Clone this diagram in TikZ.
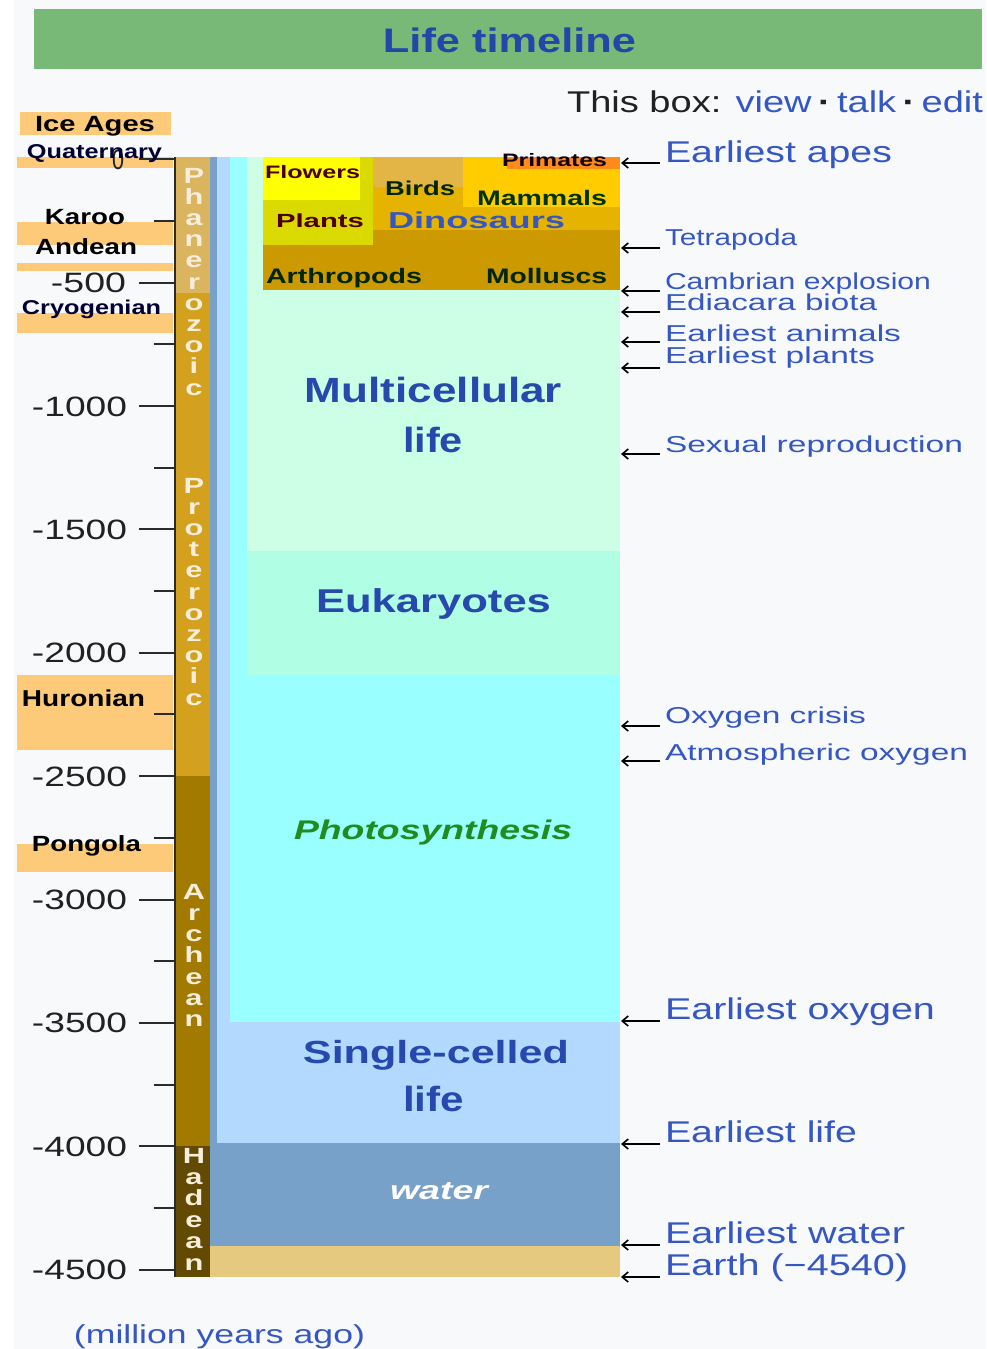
\documentclass[tikz,border=0pt]{standalone}
\usepackage{fontspec}
\setmainfont{Liberation Sans}
\usepackage{graphicx}
\usetikzlibrary{arrows.meta}
\definecolor{bg}{HTML}{F8F9FA}
\definecolor{hdr}{HTML}{78B978}
\definecolor{titleblue}{HTML}{2347A8}
\definecolor{linkblue}{HTML}{3557C4}
\definecolor{darkblue}{HTML}{2748AC}
\definecolor{darktext}{HTML}{202122}
\definecolor{band}{HTML}{FDCA7A}
\definecolor{phan}{HTML}{DAB45E}
\definecolor{prot}{HTML}{D4A11E}
\definecolor{arch}{HTML}{A27A00}
\definecolor{hade}{HTML}{624A02}
\definecolor{water}{HTML}{78A1C9}
\definecolor{single}{HTML}{B3D9FF}
\definecolor{photo}{HTML}{99FFFF}
\definecolor{euk}{HTML}{B0FFE4}
\definecolor{multi}{HTML}{CCFFE6}
\definecolor{earth}{HTML}{E5C97F}
\definecolor{arthro}{HTML}{CC9900}
\definecolor{dino}{HTML}{E5B300}
\definecolor{birds}{HTML}{E3B446}
\definecolor{mammals}{HTML}{FFCC00}
\definecolor{primates}{HTML}{FF8C1A}
\definecolor{plants}{HTML}{DADA00}
\definecolor{flowers}{HTML}{FFFF00}
\definecolor{photogreen}{HTML}{1E8C1E}
\definecolor{eraletter}{HTML}{F6EEDC}
\definecolor{tickc}{HTML}{2B2B2B}
\newcommand{\W}[2]{\resizebox{#1pt}{\height}{#2}}
\newcommand{\fs}[1]{\fontsize{#1}{#1}\selectfont}
\newcommand{\evt}[6]{%
  \coordinate (#1s) at (660,#2);
  \coordinate (#1e) at (621,#2);
  \draw[arr] (#1s) -- (#1e);
  \node[rlab] (#1) at (665,#3) {\fs{#4}\W{#5}{#6}};
}
\begin{document}
\begin{tikzpicture}[x=1pt,y=-1pt,
  lbl/.style={inner sep=0pt, outer sep=0pt},
  rlab/.style={lbl, anchor=base west, text=linkblue},
  llab/.style={lbl, anchor=base, text=black, font=\bfseries},
  num/.style={lbl, anchor=base east, text=darktext},
  inl/.style={lbl, anchor=base, text=darkblue, font=\bfseries},
  era/.style={lbl, anchor=base, text=eraletter, font=\bfseries\fs{22}},
  arr/.style={line width=1.6pt, black, -{Straight Barb[length=6pt,width=10pt]}},
  majtick/.style={line width=2pt, tickc},
  mintick/.style={line width=2pt, tickc}]
\useasboundingbox (0,0) rectangle (986,1349);
\fill[white] (0,0) rectangle (986,1349);
\fill[bg] (14,0) rectangle (986,1349);
% header
\fill[hdr] (34,9) rectangle (982,69);
\node[lbl, anchor=base, text=titleblue, font=\bfseries] (title) at (509.5,52) {\fs{34}\W{253}{Life timeline}};
\node[lbl, anchor=base west] (thisbox) at (567,112) {\fs{30}\W{416}{\textcolor{darktext}{This box:} \textcolor{linkblue}{view}\,\textcolor{darktext}{\textbf{·}}\,\textcolor{linkblue}{talk}\,\textcolor{darktext}{\textbf{·}}\,\textcolor{linkblue}{edit}}};
% ice age bands
\fill[band] (20,112) rectangle (171,135);
\fill[band] (17,157) rectangle (173,168);
\fill[band] (17,222) rectangle (173,245);
\fill[band] (17,263) rectangle (173,271);
\fill[band] (17,313) rectangle (173,333);
\fill[band] (17,675) rectangle (173,750);
\fill[band] (17,844) rectangle (173,872);
% life columns
\fill[water] (210,157) rectangle (620,1246);
\fill[single] (217,157) rectangle (620,1143);
\fill[photo] (230,157) rectangle (620,1022);
\fill[euk] (247,157) rectangle (620,675);
\fill[multi] (247,157) rectangle (620,551);
\fill[earth] (210,1246) rectangle (620,1277);
% phanerozoic block
\fill[arthro] (263,157) rectangle (620,290);
\fill[dino] (373,157) rectangle (620,230);
\fill[plants] (263,157) rectangle (373,245);
\fill[flowers] (263,157) rectangle (360,200);
\fill[birds] (373,157) rectangle (463,187);
\fill[mammals] (463,157) rectangle (620,207);
\fill[primates] (507,157) rectangle (620,169);
% era bars
\fill[phan] (176,157) rectangle (210,293);
\fill[prot] (176,293) rectangle (210,776);
\fill[arch] (176,776) rectangle (210,1146);
\fill[hade] (176,1146) rectangle (210,1277);
% axis
\draw[line width=2.5pt, tickc] (175,157) -- (175,1277);
\foreach \t in {0,500,...,4500} {
  \draw[majtick] (139,{159.4+0.2467*\t}) -- (175,{159.4+0.2467*\t});
}
\foreach \t in {250,750,...,4250} {
  \draw[mintick] (154,{159.4+0.2467*\t}) -- (175,{159.4+0.2467*\t});
}
% axis numbers
\node[num] (n0) at (124,169) {\fs{28}\W{12}{0}};
\node[num] (n500) at (126,292.8) {\fs{28}\W{75}{-500}};
\node[num] (n1000) at (127,416.1) {\fs{28}\W{95}{-1000}};
\node[num] (n1500) at (127,539.5) {\fs{28}\W{95}{-1500}};
\node[num] (n2000) at (127,662.8) {\fs{28}\W{95}{-2000}};
\node[num] (n2500) at (127,786.2) {\fs{28}\W{95}{-2500}};
\node[num] (n3000) at (127,909.5) {\fs{28}\W{95}{-3000}};
\node[num] (n3500) at (127,1032.9) {\fs{28}\W{95}{-3500}};
\node[num] (n4000) at (127,1156.2) {\fs{28}\W{95}{-4000}};
\node[num] (n4500) at (127,1279.6) {\fs{28}\W{95}{-4500}};
% ice age labels
\node[llab] (ice) at (95,131) {\fs{22}\W{120}{Ice Ages}};
\node[llab, text=black!80!blue] (quat) at (94.5,158) {\fs{20}\W{135}{Quaternary}};
\node[llab] (karoo) at (85,224) {\fs{22}\W{80}{Karoo}};
\node[llab] (andean) at (86,254) {\fs{22}\W{102}{Andean}};
\node[llab, text=black!80!blue] (cryo) at (91.5,314) {\fs{20}\W{139}{Cryogenian}};
\node[llab] (huron) at (83.5,706) {\fs{23}\W{123}{Huronian}};
\node[llab] (pong) at (86.5,851) {\fs{22}\W{109}{Pongola}};
% era letters
\foreach \l [count=\i from 0] in {P,h,a,n,e,r,o,z,o,i,c}
  \node[era] (phz\i) at (194,{183+21.2*\i}) {\scalebox{1.4}[1]{\l}};
\foreach \l [count=\i from 0] in {P,r,o,t,e,r,o,z,o,i,c}
  \node[era] (prz\i) at (194,{493+21.2*\i}) {\scalebox{1.4}[1]{\l}};
\foreach \l [count=\i from 0] in {A,r,c,h,e,a,n}
  \node[era] (arc\i) at (194,{899+21.3*\i}) {\scalebox{1.4}[1]{\l}};
\foreach \l [count=\i from 0] in {H,a,d,e,a,n}
  \node[era] (had\i) at (194,{1163+21.4*\i}) {\scalebox{1.4}[1]{\l}};
% block labels
\node[lbl, anchor=base west, text=black!70!red, font=\bfseries] (flowers) at (265,178) {\fs{18}\W{95}{Flowers}};
\node[lbl, anchor=base west, text=black!85!green, font=\bfseries] (birds) at (385,195) {\fs{20}\W{70}{Birds}};
\node[lbl, anchor=base west, text=black!70!red, font=\bfseries] (plants) at (276,227) {\fs{19}\W{88}{Plants}};
\node[lbl, anchor=base west, text=black!80!green, font=\bfseries] (mammals) at (477,205) {\fs{21}\W{130}{Mammals}};
\node[lbl, anchor=base west, text=black!85!violet, font=\bfseries] (primates) at (502,166) {\fs{18}\W{105}{Primates}};
\node[lbl, anchor=base west, text=linkblue, font=\bfseries] (dinos) at (388,228) {\fs{23}\W{177}{Dinosaurs}};
\node[lbl, anchor=base west, text=black!85!green, font=\bfseries] (arthro) at (266,283) {\fs{21}\W{156}{Arthropods}};
\node[lbl, anchor=base west, text=black!85!green, font=\bfseries] (mollu) at (486,283) {\fs{21}\W{121}{Molluscs}};
% big interior labels
\node[inl] (multi1) at (433.5,402) {\fs{35}\W{257}{Multicellular}};
\node[inl] (multi2) at (433,452) {\fs{35}\W{60}{life}};
\node[inl] (euk) at (433.5,612) {\fs{33}\W{235}{Eukaryotes}};
\node[inl, text=photogreen, font=\bfseries\itshape] (photo) at (433,839) {\fs{27}\W{278}{Photosynthesis}};
\node[inl] (single1) at (436,1063) {\fs{32}\W{266}{Single-celled}};
\node[inl] (single2) at (433.5,1111) {\fs{35}\W{61}{life}};
\node[inl, text=white, font=\bfseries\itshape] (waterl) at (439,1199) {\fs{26}\W{98}{water}};
% right labels with arrows
\evt{apes}{163}{162}{30}{227}{Earliest apes}
\evt{tetra}{248}{245}{23}{132}{Tetrapoda}
\evt{camb}{291}{289}{23}{266}{Cambrian explosion}
\evt{edia}{312}{310}{23}{212}{Ediacara biota}
\evt{anim}{342}{341}{23}{236}{Earliest animals}
\evt{plnt}{368}{363}{23}{210}{Earliest plants}
\evt{sex}{454}{452}{23}{298}{Sexual reproduction}
\evt{oxc}{726}{723}{23}{201}{Oxygen crisis}
\evt{atm}{761}{760}{23}{303}{Atmospheric oxygen}
\evt{oxy}{1021}{1019}{30}{270}{Earliest oxygen}
\evt{life}{1144}{1142}{30}{192}{Earliest life}
\evt{wat}{1245}{1243}{30}{240}{Earliest water}
\evt{earth}{1277}{1275}{30}{243}{Earth (−4540)}
% footer
\node[lbl, anchor=base, text=linkblue] (myago) at (219.5,1343) {\fs{26}\W{291}{(million years ago)}};
\end{tikzpicture}
\end{document}
